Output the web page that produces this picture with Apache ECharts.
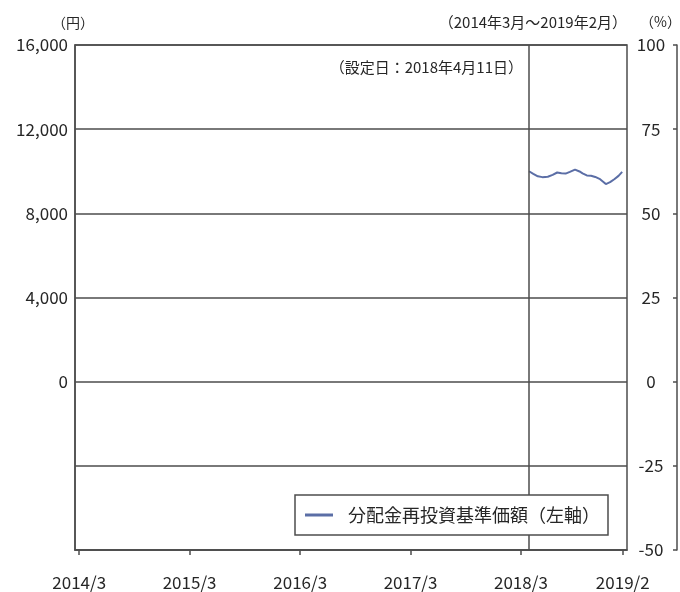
<!DOCTYPE html>
<html><head><meta charset="utf-8">
<script src="https://cdn.jsdelivr.net/npm/echarts@6/dist/echarts.min.js"></script>
<style>html,body{margin:0;padding:0;background:#fff}#c{width:680px;height:592px}</style>
</head><body><div id="c"></div>
<script>
const dates = ['2018-04-11','2018-04-25','2018-05-10','2018-05-25','2018-06-12','2018-06-28','2018-07-13','2018-07-27','2018-08-10','2018-08-24','2018-09-10','2018-09-25','2018-10-05','2018-10-19','2018-11-02','2018-11-16','2018-11-30','2018-12-14','2018-12-21','2019-01-04','2019-01-18','2019-02-01','2019-02-13'];
const navValues = [10000,9880,9760,9720,9740,9830,9940,9900,9890,9970,10080,9990,9900,9800,9790,9730,9640,9480,9390,9480,9620,9780,9970];
const xTickMonths = ['2014-03','2015-03','2016-03','2017-03','2018-03','2019-02'];
const xTickLabels = ['2014/3','2015/3','2016/3','2017/3','2018/3','2019/2'];
const seriesName = '分配金再投資基準価額（左軸）';
const launchDate = '2018-04-11';

const ts = s => { const p = s.split('-').map(Number); return Date.UTC(p[0], p[1]-1, p[2] || 15); };
const tickVals = xTickMonths.map(m => ts(m + '-15'));
const labelMap = {}; tickVals.forEach((v,i) => labelMap[v] = xTickLabels[i]);
const lineColor = '#5b6ea6';
const gridColor = '#4d4d4d';
const textColor = '#262626';
const font = '"Noto Sans CJK JP", "Noto Sans", sans-serif';

const chart = echarts.init(document.getElementById('c'));
chart.setOption({
  animation: false,
  grid: { left: 75, right: 53, top: 45, bottom: 42, show: true, borderColor: gridColor, borderWidth: 1.5, backgroundColor: 'transparent' },
  xAxis: {
    type: 'value', min: Date.UTC(2014,2,1), max: Date.UTC(2019,2,1),
    axisLine: { onZero: false, lineStyle: { color: gridColor, width: 1.5 } },
    axisTick: { show: true, customValues: tickVals, length: 5, lineStyle: { color: gridColor, width: 1.5 } },
    axisLabel: { customValues: tickVals, formatter: v => labelMap[v] || '', margin: 24, color: textColor, fontSize: 17, fontFamily: font },
    splitLine: { show: false }
  },
  yAxis: [{
    type: 'value', min: -8000, max: 16000, interval: 4000,
    axisLine: { show: true, lineStyle: { color: gridColor, width: 1.5 } },
    axisTick: { show: false },
    axisLabel: { formatter: v => v >= 0 ? v.toLocaleString('en-US') : '', color: textColor, fontSize: 17, fontFamily: font, margin: 7 },
    splitLine: { lineStyle: { color: gridColor, width: 1.5 } }
  }, {
    type: 'value', min: -50, max: 100, interval: 25, position: 'right', offset: 50,
    axisLine: { show: true, lineStyle: { color: gridColor, width: 1.5 } },
    axisTick: { show: true, inside: true, length: 4, lineStyle: { color: gridColor, width: 1.5 } },
    axisLabel: { inside: true, align: 'center', margin: 26, color: textColor, fontSize: 17, fontFamily: font },
    splitLine: { show: false }
  }],
  legend: {
    left: 295, top: 495, orient: 'horizontal',
    padding: [11, 8, 11, 10],
    backgroundColor: '#fff', borderColor: gridColor, borderWidth: 1.5, borderRadius: 0,
    icon: 'rect', itemWidth: 28, itemHeight: 3,
    textStyle: { fontSize: 18, color: textColor, fontFamily: font, padding: [0,0,0,10] },
    data: [seriesName], z: 10
  },
  series: [{
    name: seriesName, type: 'line', yAxisIndex: 0,
    data: dates.map((d,i) => [ts(d), navValues[i]]),
    showSymbol: false, symbol: 'none',
    lineStyle: { color: lineColor, width: 2 }, itemStyle: { color: lineColor },
    markLine: {
      silent: true, symbol: 'none', label: { show: false },
      lineStyle: { color: gridColor, width: 1.5, type: 'solid' },
      data: [{ xAxis: ts(launchDate) }]
    }
  }],
  graphic: [
    { type: 'text', left: 52, top: 16, style: { text: '（円）', fontSize: 14, fill: textColor, fontFamily: font } },
    { type: 'text', right: 53, top: 15, style: { text: '（2014年3月～2019年2月）', fontSize: 15, fill: textColor, fontFamily: font } },
    { type: 'text', left: 640, top: 15, style: { text: '（%）', fontSize: 14, fill: textColor, fontFamily: font } },
    { type: 'text', right: 157, top: 60, style: { text: '（設定日：2018年4月11日）', fontSize: 15, fill: textColor, fontFamily: font } }
  ]
});
</script></body></html>
